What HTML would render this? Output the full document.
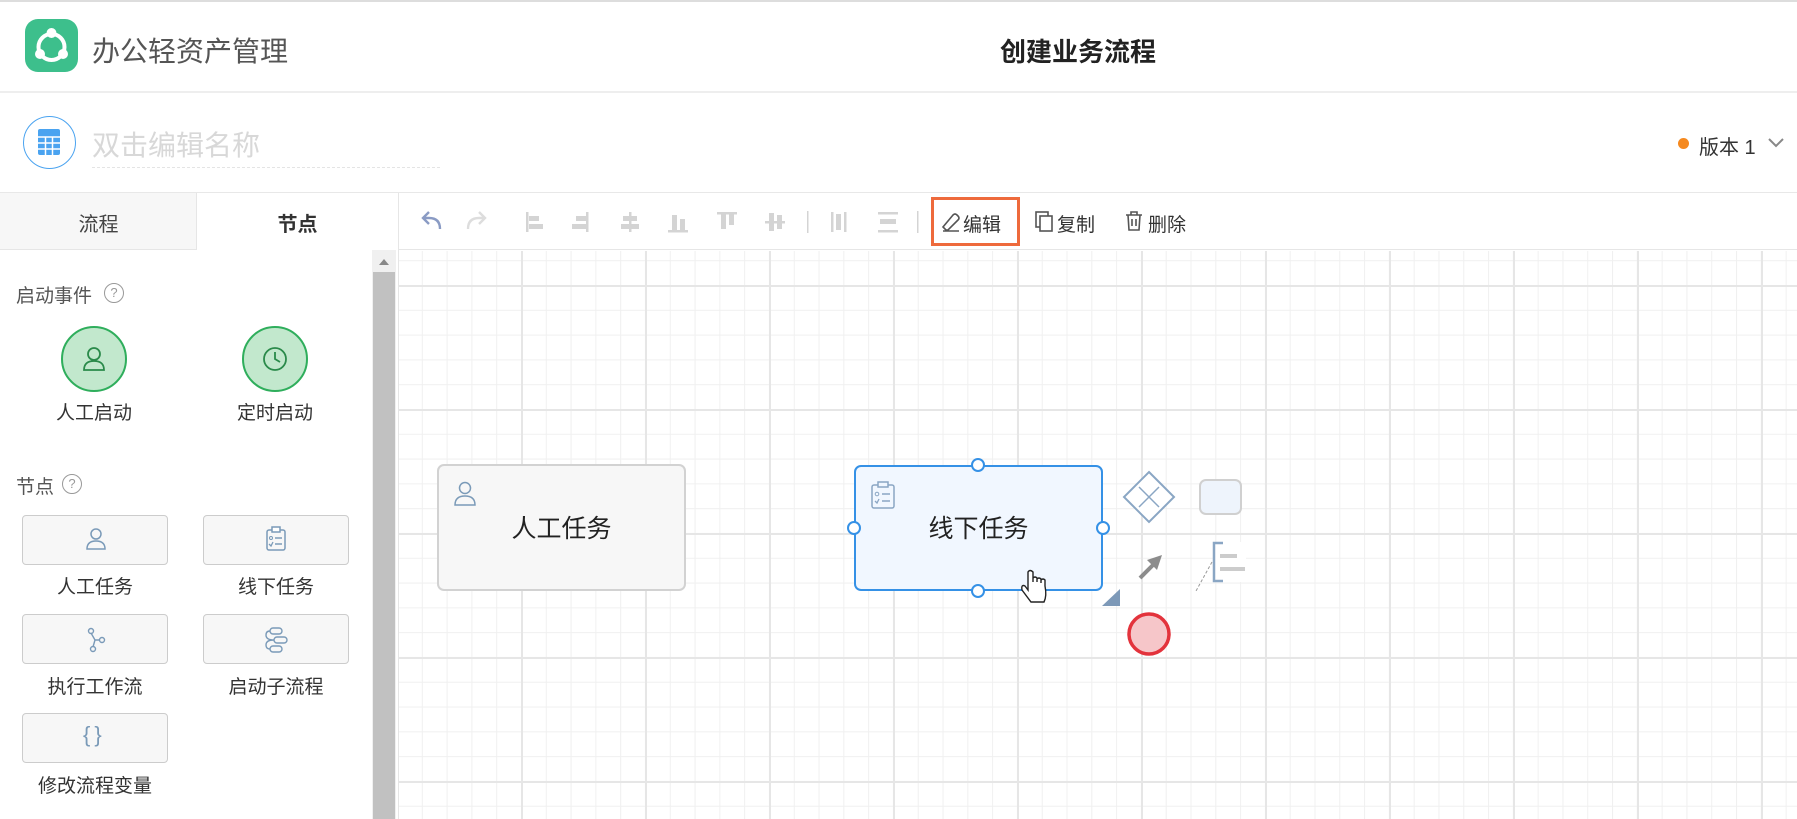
<!DOCTYPE html>
<html><head><meta charset="utf-8"><style>
*{margin:0;padding:0;box-sizing:border-box}
body{width:1797px;height:819px;overflow:hidden;background:#fff;font-family:"Liberation Sans","Noto Sans CJK SC",sans-serif;position:relative;color:#333}
.a{position:absolute}
.grid{background-color:#fff;background-image:
linear-gradient(#e6e6e6 2px,transparent 2px),linear-gradient(90deg,#e6e6e6 2px,transparent 2px),
linear-gradient(#f0f0f0 1px,transparent 1px),linear-gradient(90deg,#f0f0f0 1px,transparent 1px);
background-size:124px 124px,124px 124px,24.8px 24.8px,24.8px 24.8px;background-position:-2px 34px,-2px 34px,-2px 34px,-2px 34px}
.btn{position:absolute;width:146px;height:50px;border:1px solid #ccc;border-radius:4px;background:#f7f7f7}
.lbl{position:absolute;font-size:19px;color:#333;text-align:center;width:180px}
.tb{position:absolute;top:210px;font-size:19px;color:#333}
</style></head><body>
<div class="a" style="left:0;top:0;width:1797px;height:2px;background:#ddd"></div>
<div class="a" style="left:25px;top:19px;width:53px;height:53px;border-radius:13px;background:#3dbf8c"></div>
<svg class="a" style="left:25px;top:19px" width="53" height="53"><circle cx="26.5" cy="28" r="13" fill="none" stroke="#fff" stroke-width="4"/><circle cx="26.5" cy="14" r="5" fill="#fff"/><circle cx="15" cy="35" r="5" fill="#fff"/><circle cx="38" cy="35" r="5" fill="#fff"/></svg>
<div class="a" style="left:92px;top:30px;font-size:28px;color:#555">办公轻资产管理</div>
<div class="a" style="left:978px;top:32px;font-size:26px;font-weight:bold;color:#222;width:200px;text-align:center">创建业务流程</div>
<div class="a" style="left:0;top:91px;width:1797px;height:2px;background:#eee"></div>
<div class="a" style="left:23px;top:116px;width:53px;height:53px;border-radius:50%;border:1px solid #4aa3f0"></div>
<svg class="a" style="left:38px;top:129px" width="22" height="26"><rect width="22" height="26" rx="2" fill="#4aa3f0"/><g stroke="#fff" stroke-width="1.5"><line x1="0" y1="8" x2="22" y2="8"/><line x1="0" y1="14" x2="22" y2="14"/><line x1="0" y1="20" x2="22" y2="20"/><line x1="7.5" y1="8" x2="7.5" y2="26"/><line x1="14.5" y1="8" x2="14.5" y2="26"/></g></svg>
<div class="a" style="left:92px;top:124px;font-size:28px;color:#d8d8d8">双击编辑名称</div>
<div class="a" style="left:92px;top:167px;width:348px;border-top:1px dashed #e4e4e4"></div>
<div class="a" style="left:1678px;top:138px;width:11px;height:11px;border-radius:50%;background:#f5891f"></div>
<div class="a" style="left:1699px;top:131px;font-size:20px;color:#333">版本 1</div>
<svg class="a" style="left:1767px;top:137px" width="18" height="12"><polyline points="2,2 9,9 16,2" fill="none" stroke="#888" stroke-width="2"/></svg>
<div class="a" style="left:0;top:192px;width:1797px;height:1px;background:#e8e8e8"></div>
<div class="a" style="left:0;top:193px;width:197px;height:57px;background:#f7f7f7;border-right:1px solid #e6e6e6;border-bottom:1px solid #e6e6e6"></div>
<div class="a" style="left:0;top:208px;width:197px;text-align:center;font-size:20px;color:#444">流程</div>
<div class="a" style="left:197px;top:208px;width:201px;text-align:center;font-size:20px;font-weight:bold;color:#333">节点</div>
<div class="a" style="left:398px;top:193px;width:1px;height:626px;background:#e6e6e6"></div>
<div class="a" style="left:372px;top:250px;width:24px;height:569px;background:#f0f0f0"></div>
<div class="a" style="left:373px;top:272px;width:22px;height:547px;background:#c1c1c1"></div>
<svg class="a" style="left:378px;top:258px" width="12" height="8"><polygon points="6,1 11,7 1,7" fill="#888"/></svg>
<div class="a" style="left:16px;top:281px;font-size:19px;color:#555">启动事件</div>
<div class="a" style="left:104px;top:283px;width:20px;height:20px;border-radius:50%;border:1.5px solid #999;font-size:13px;color:#999;text-align:center;line-height:17px">?</div>
<div class="a" style="left:61px;top:326px;width:66px;height:66px;border-radius:50%;background:#c2e8cd;border:2px solid #2fae5c"></div>
<svg class="a" style="left:80px;top:345px" width="28" height="28"><circle cx="14" cy="9" r="6" fill="none" stroke="#2a8a4a" stroke-width="1.8"/><path d="M4 25 Q4 16 14 16 Q24 16 24 25 Z" fill="none" stroke="#2a8a4a" stroke-width="1.8"/></svg>
<div class="a" style="left:242px;top:326px;width:66px;height:66px;border-radius:50%;background:#c2e8cd;border:2px solid #2fae5c"></div>
<svg class="a" style="left:261px;top:345px" width="28" height="28"><circle cx="14" cy="14" r="11" fill="none" stroke="#2a8a4a" stroke-width="1.8"/><polyline points="14,7 14,14 19,17" fill="none" stroke="#2a8a4a" stroke-width="1.8"/></svg>
<div class="lbl" style="left:4px;top:398px">人工启动</div>
<div class="lbl" style="left:185px;top:398px">定时启动</div>
<div class="a" style="left:16px;top:472px;font-size:19px;color:#555">节点</div>
<div class="a" style="left:62px;top:474px;width:20px;height:20px;border-radius:50%;border:1.5px solid #999;font-size:13px;color:#999;text-align:center;line-height:17px">?</div>
<div class="btn" style="left:22px;top:515px"></div><div class="btn" style="left:203px;top:515px"></div>
<div class="btn" style="left:22px;top:614px"></div><div class="btn" style="left:203px;top:614px"></div>
<div class="btn" style="left:22px;top:713px"></div>
<svg class="a" style="left:85px;top:527px" width="22" height="24"><circle cx="11" cy="7" r="5" fill="none" stroke="#7a9ab8" stroke-width="1.5"/><path d="M2 22 Q2 14 11 14 Q20 14 20 22 Z" fill="none" stroke="#7a9ab8" stroke-width="1.5"/></svg>
<svg class="a" style="left:265px;top:526px" width="22" height="26"><rect x="2" y="4" width="18" height="20" rx="2" fill="none" stroke="#7a9ab8" stroke-width="1.5"/><rect x="7" y="1" width="8" height="5" fill="#fff" stroke="#7a9ab8" stroke-width="1.5"/><line x1="10" y1="12" x2="17" y2="12" stroke="#7a9ab8" stroke-width="1.5"/><line x1="10" y1="18" x2="17" y2="18" stroke="#7a9ab8" stroke-width="1.5"/><circle cx="6" cy="12" r="1.5" fill="none" stroke="#7a9ab8"/><polyline points="4,18 6,20 8,16" fill="none" stroke="#7a9ab8" stroke-width="1.3"/></svg>
<svg class="a" style="left:85px;top:627px" width="22" height="26"><circle cx="6" cy="4" r="2.5" fill="none" stroke="#7a9ab8" stroke-width="1.4"/><circle cx="17" cy="13" r="2.5" fill="none" stroke="#7a9ab8" stroke-width="1.4"/><circle cx="8" cy="22" r="2.5" fill="none" stroke="#7a9ab8" stroke-width="1.4"/><path d="M6 6 L10 13 L15 13 M10 13 L8 20" fill="none" stroke="#7a9ab8" stroke-width="1.4"/></svg>
<svg class="a" style="left:265px;top:627px" width="24" height="26"><rect x="5" y="1" width="12" height="6" rx="3" fill="none" stroke="#7a9ab8" stroke-width="1.4"/><rect x="9" y="10" width="13" height="6" rx="3" fill="none" stroke="#7a9ab8" stroke-width="1.4"/><rect x="5" y="19" width="12" height="6" rx="3" fill="none" stroke="#7a9ab8" stroke-width="1.4"/><path d="M5 4 Q1 4 1 8 Q1 13 9 13 M9 13 Q1 13 1 18 Q1 22 5 22" fill="none" stroke="#7a9ab8" stroke-width="1.4"/></svg>
<div class="a" style="left:83px;top:722px;font-size:22px;color:#7a9ab8;letter-spacing:4px">{}</div>
<div class="lbl" style="left:5px;top:572px">人工任务</div>
<div class="lbl" style="left:186px;top:572px">线下任务</div>
<div class="lbl" style="left:5px;top:672px">执行工作流</div>
<div class="lbl" style="left:186px;top:672px">启动子流程</div>
<div class="lbl" style="left:5px;top:771px">修改流程变量</div>
<div class="a" style="left:399px;top:193px;width:1398px;height:57px;background:#fff;border-bottom:1px solid #e6e6e6"></div>
<svg class="a" style="left:418px;top:205px" width="700" height="34">
<path d="M22 24 Q22 13 11 13 L6 13 M11 7 L5 13 L11 19" fill="none" stroke="#8a9bc4" stroke-width="2.4"/>
<path d="M50 24 Q50 13 61 13 L66 13 M61 7 L67 13 L61 19" fill="none" stroke="#ddd" stroke-width="2.4"/>
<g fill="#d4d4d4">
<rect x="108" y="7" width="2.5" height="20"/><rect x="111" y="11" width="10" height="5"/><rect x="111" y="19" width="14" height="5"/>
<rect x="168" y="7" width="2.5" height="20"/><rect x="158" y="11" width="10" height="5"/><rect x="154" y="19" width="14" height="5"/>
<rect x="211" y="7" width="2.5" height="20"/><rect x="205" y="11" width="14" height="5"/><rect x="203" y="19" width="18" height="5"/>
<rect x="250" y="25" width="20" height="2.5"/><rect x="254" y="10" width="5" height="15"/><rect x="262" y="14" width="5" height="11"/>
<rect x="299" y="7" width="20" height="2.5"/><rect x="303" y="9" width="5" height="15"/><rect x="311" y="9" width="5" height="11"/>
<rect x="347" y="16" width="20" height="2.5"/><rect x="351" y="8" width="5" height="18"/><rect x="359" y="10" width="5" height="14"/>
<rect x="389" y="6" width="1.5" height="22"/>
<rect x="413" y="7" width="2.5" height="20"/><rect x="426" y="7" width="2.5" height="20"/><rect x="418" y="9" width="5" height="16"/>
<rect x="460" y="7" width="20" height="2.5"/><rect x="460" y="25" width="20" height="2.5"/><rect x="462" y="14" width="16" height="5"/>
<rect x="499" y="6" width="1.5" height="22"/>
</g></svg>
<div class="a" style="left:931px;top:197px;width:89px;height:49px;border:3px solid #ee6a3c"></div>
<svg class="a" style="left:941px;top:211px" width="20" height="22"><path d="M5 19 L2 16 L12 4 Q14 2 16 4 L17 5 Q19 7 17 9 L7 19 Z M2 20 L18 20" fill="none" stroke="#555" stroke-width="1.6"/></svg>
<div class="tb" style="left:963px">编辑</div>
<svg class="a" style="left:1034px;top:211px" width="20" height="22"><rect x="2" y="1" width="12" height="15" fill="none" stroke="#555" stroke-width="1.6"/><rect x="6" y="5" width="12" height="15" fill="#fff" stroke="#555" stroke-width="1.6"/></svg>
<div class="tb" style="left:1057px">复制</div>
<svg class="a" style="left:1124px;top:210px" width="20" height="22"><path d="M2 5 L18 5 M7 5 L7 2 L13 2 L13 5 M4 5 L5 20 L15 20 L16 5 M8 9 L8 16 M12 9 L12 16" fill="none" stroke="#555" stroke-width="1.6"/></svg>
<div class="tb" style="left:1148px">删除</div>
<div class="a grid" style="left:399px;top:251px;width:1398px;height:568px"></div>
<svg class="a" style="left:0;top:0" width="1797" height="819">
<rect x="438" y="465" width="247" height="125" rx="6" fill="#f7f7f7" stroke="#d2d2d2" stroke-width="2"/>
<circle cx="465" cy="488" r="5.5" fill="none" stroke="#7a9ab8" stroke-width="1.5"/><path d="M455 505 Q455 496 465 496 Q475 496 475 505 Z" fill="none" stroke="#7a9ab8" stroke-width="1.5"/>
<rect x="855" y="466" width="247" height="124" rx="6" fill="#f1f7ff" stroke="#3591e6" stroke-width="2"/>
<rect x="872" y="485" width="22" height="23" rx="2" fill="none" stroke="#8aa6c4" stroke-width="1.5"/><rect x="878" y="482" width="10" height="5" fill="#f1f7ff" stroke="#8aa6c4" stroke-width="1.5"/>
<circle cx="877" cy="494" r="1.8" fill="none" stroke="#8aa6c4"/><line x1="882" y1="494" x2="890" y2="494" stroke="#8aa6c4" stroke-width="1.5"/><line x1="882" y1="501" x2="890" y2="501" stroke="#8aa6c4" stroke-width="1.5"/><polyline points="875,501 877,503 879,499" fill="none" stroke="#8aa6c4" stroke-width="1.3"/>
<g fill="#fff" stroke="#3591e6" stroke-width="2"><circle cx="978" cy="465" r="6"/><circle cx="978" cy="591" r="6"/><circle cx="854" cy="528" r="6"/><circle cx="1103" cy="528" r="6"/></g>
<polygon points="1149,472 1174,497 1149,522 1124,497" fill="#fff" stroke="#8aa6c4" stroke-width="2"/>
<path d="M1139 487 L1159 507 M1159 487 L1139 507" stroke="#8aa6c4" stroke-width="1.5"/>
<rect x="1200" y="480" width="41" height="34" rx="6" fill="#eef4fc" stroke="#d0d0d0" stroke-width="2"/>
<path d="M1140 578 L1156 562" stroke="#8c8c8c" stroke-width="4"/><polygon points="1162,555 1147,560 1157,570" fill="#8c8c8c"/>
<rect x="1213" y="542" width="33" height="40" fill="#fff"/>
<path d="M1223 543 L1214 543 L1214 581 L1223 581" fill="none" stroke="#8aa6c4" stroke-width="2.5"/>
<rect x="1220" y="554" width="17" height="4" fill="#ccc"/><rect x="1220" y="567" width="25" height="4" fill="#ccc"/>
<line x1="1212" y1="562" x2="1196" y2="591" stroke="#999" stroke-width="1" stroke-dasharray="3,2"/>
<polygon points="1120,589 1120,606 1102,606" fill="#7d99b8"/>
<circle cx="1149" cy="634" r="20" fill="#f6c6c9" stroke="#e3333c" stroke-width="3.5"/>
<path d="M1028 572 L1028 590 L1025 586 Q1021 584 1022 590 L1031 602 L1044 602 Q1047 596 1045 586 L1045 580 Q1043 578 1041 580 L1041 583 L1041 579 Q1039 577 1037 579 L1037 582 L1037 578 Q1035 576 1033 578 L1033 582 L1033 572 Q1030 569 1028 572 Z" fill="#fff" stroke="#222" stroke-width="1.4"/>
</svg>
<div class="a" style="left:438px;top:509px;width:247px;text-align:center;font-size:25px;color:#222">人工任务</div>
<div class="a" style="left:855px;top:509px;width:247px;text-align:center;font-size:25px;color:#222">线下任务</div>
</body></html>
